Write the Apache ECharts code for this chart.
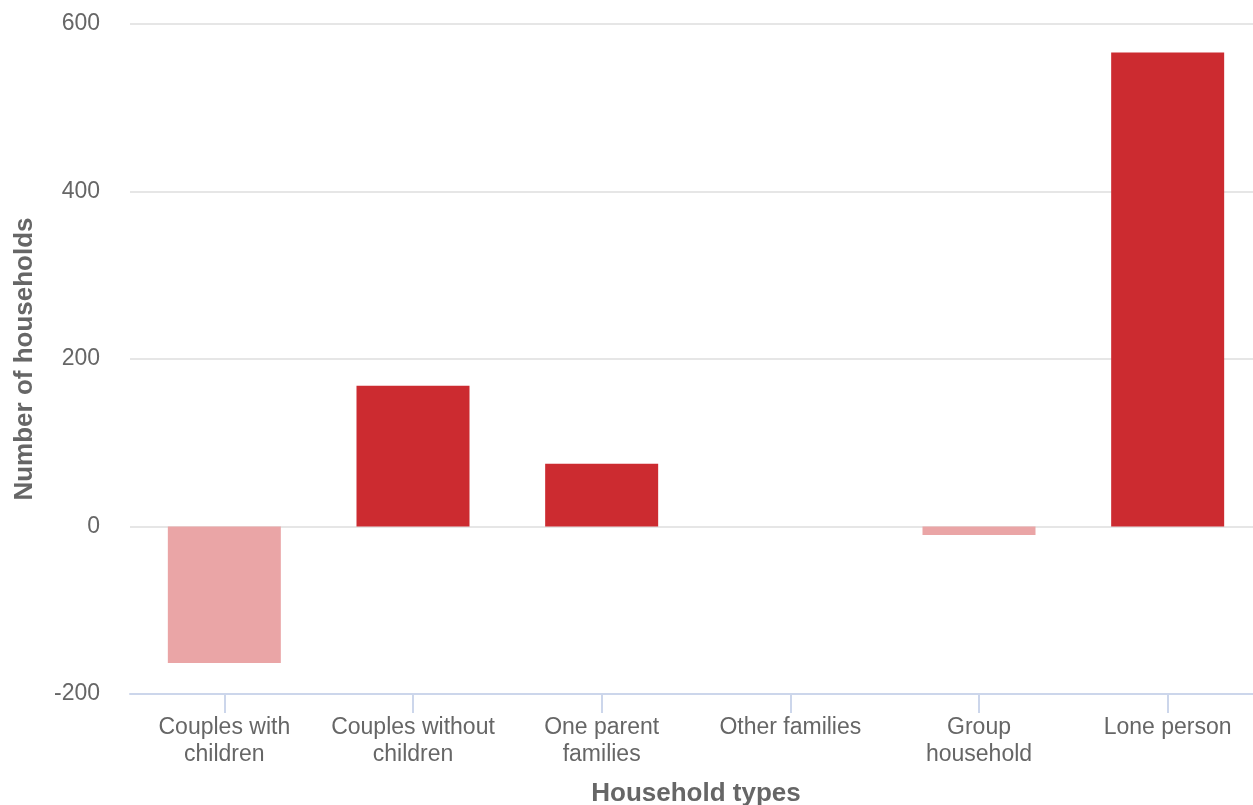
<!DOCTYPE html>
<html><head><meta charset="utf-8">
<script src="https://cdn.jsdelivr.net/npm/echarts@6/dist/echarts.min.js"></script>
<style>html,body{margin:0;padding:0;background:#fff;overflow:hidden}#c{width:1253px;height:805px}</style>
</head><body><div id="c"></div>
<script>
const categories = ["Couples with\nchildren", "Couples without\nchildren", "One parent\nfamilies", "Other families", "Group\nhousehold", "Lone person"];
const values = [-163, 168, 75, 0, -10, 566];
const yTicks = { min: -200, max: 600, interval: 200 };
const POS = '#cc2b30', NEG = '#eaa5a6';
const FONT = '"Liberation Sans", Arial, sans-serif';
const chart = echarts.init(document.getElementById('c'));
chart.setOption({
  animation: false,
  grid: { left: 130, right: -9, top: 24, bottom: 111, containLabel: false, outerBoundsMode: 'none' },
  xAxis: {
    type: 'category', data: categories,
    name: 'Household types', nameLocation: 'middle', nameGap: 87,
    nameTextStyle: { color: '#666', fontSize: 26, fontWeight: 'bold', fontFamily: FONT },
    axisLine: { show: true, onZero: false, lineStyle: { color: '#ccd6eb', width: 2 } },
    axisTick: { show: true, length: 19, lineStyle: { color: '#ccd6eb', width: 2 }, alignWithLabel: true, interval: 0 },
    axisLabel: { color: '#666', fontSize: 23, lineHeight: 27, fontFamily: FONT, margin: 20, interval: 0 }
  },
  yAxis: {
    type: 'value', min: yTicks.min, max: yTicks.max, interval: yTicks.interval,
    name: 'Number of households', nameLocation: 'middle', nameGap: 92,
    nameTextStyle: { color: '#666', fontSize: 26, fontWeight: 'bold', fontFamily: FONT },
    axisLine: { show: false }, axisTick: { show: false },
    axisLabel: { color: '#666', fontSize: 23, fontFamily: FONT, margin: 30, padding: [4, 0, 0, 0] },
    splitLine: { lineStyle: { color: '#e6e6e6', width: 2 } }
  },
  series: [{
    type: 'bar', barWidth: 113,
    data: values.map(v => ({ value: v, itemStyle: { color: v < 0 ? NEG : POS } }))
  }]
});
</script></body></html>
